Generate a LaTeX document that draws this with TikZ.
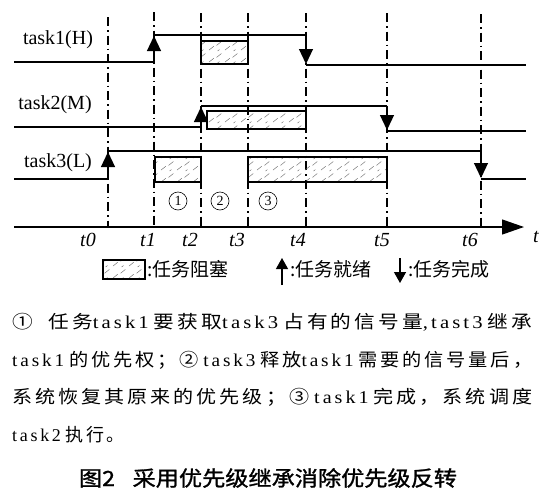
\documentclass[tikz,border=0pt]{standalone}
\usepackage{fontspec}
\usepackage{graphicx}
\setmainfont{Liberation Serif}
\newfontfamily\cjk[LetterSpace=15]{Noto Sans CJK SC}
\newfontfamily\cjkplain{Noto Sans CJK SC}
\newfontfamily\cjkcap[FakeBold=1.2]{Noto Sans CJK SC}
\newfontfamily\spaced[LetterSpace=15]{Liberation Serif}
\usetikzlibrary{arrows.meta,patterns.meta}
\tikzdeclarepattern{
  name=speckle,
  type=uncolored,
  bounding box={(0pt,0pt) and (16pt,12pt)},
  tile size={(16pt,12pt)},
  code={
    \draw[line width=0.45pt] (1pt,2pt) -- (6pt,6pt);
    \draw[line width=0.45pt] (9pt,7pt) -- (14pt,11pt);
    \draw[line width=0.45pt] (10pt,1pt) -- (12pt,2.5pt);
  }
}
\begin{document}
\begin{tikzpicture}[x=1pt,y=-1pt,
  sig/.style={line width=1.2pt},
  tipped/.style={line width=1.2pt,-{Triangle[length=15pt,width=14pt]}},
  guide/.style={line width=1.1pt,dash pattern=on 9pt off 4pt on 1.5pt off 4pt},
  blk/.style={draw,line width=1.1pt,pattern=speckle,pattern color=black!60},
  tasklbl/.style={inner sep=0pt,font=\fontsize{20}{22}\selectfont},
  tlbl/.style={inner sep=0pt,font=\fontsize{20}{22}\selectfont\itshape},
  circnum/.style={draw,circle,line width=0.6pt,minimum size=18pt,inner sep=0pt,font=\fontsize{14}{14}\selectfont},
  para/.style={anchor=west,inner sep=0pt},
  lgtext/.style={anchor=west,inner sep=0pt,font=\fontsize{19}{22}\selectfont\cjkplain},
  lgarrow/.style={line width=1.3pt,-{Triangle[length=11pt,width=12pt]}}
]
\useasboundingbox (0,0) rectangle (544,496);

% time guides
\foreach \xx/\yy in {108/17,154/12,201/13,248/13,306/13,387/13,481/14}
  \draw[guide] (\xx,\yy) -- (\xx,227);

% time axis
\coordinate (ax0) at (14,227);
\coordinate (ax1) at (524,227);
\draw[line width=1.2pt,-{Triangle[length=22pt,width=15pt]}] (ax0) -- (ax1);
\node[tlbl] (tt) at (536,237) {t};
\foreach \xx/\n in {88/0,148/1,190/2,237/3,298/4,382/5,470/6}
  \node[tlbl] (lt\n) at (\xx,240) {t\n};

% task labels
\node[tasklbl] (k1) at (58,40) {task1(H)};
\node[tasklbl] (k2) at (55,105) {task2(M)};
\node[tasklbl] (k3) at (58,163) {task3(L)};

% blocked intervals
\draw[blk] (201,41) rectangle (248,64);
\draw[blk] (207,111) rectangle (306,129);
\draw[blk] (155,157) rectangle (201,182);
\draw[blk] (248,157) rectangle (387,182);

% task1
\draw[tipped] (14,62) -- (154,62) -- (154,36);
\draw[sig] (154,35) -- (306,35);
\draw[tipped] (306,35) -- (306,64);
\draw[sig] (306,65) -- (526,65);
% task2
\draw[tipped] (14,127) -- (201,127) -- (201,107);
\draw[sig] (201,106) -- (387,106);
\draw[tipped] (387,106) -- (387,130);
\draw[sig] (387,131) -- (526,131);
% task3
\draw[tipped] (14,179) -- (108,179) -- (108,152);
\draw[sig] (108,151) -- (481,151);
\draw[tipped] (481,151) -- (481,178);
\draw[sig] (481,179) -- (526,179);

% phases
\node[circnum] (c1) at (178,201) {1};
\node[circnum] (c2) at (220,201) {2};
\node[circnum] (c3) at (268,201) {3};

% legend
\draw[blk] (103,260) rectangle (145,279);
\node[lgtext] (lg1) at (147,269) {:任务阻塞};
\draw[lgarrow] (282,285) -- (282,258);
\node[lgtext] (lg2) at (290,269) {:任务就绪};
\draw[lgarrow] (400,258) -- (400,283);
\node[lgtext] (lg3) at (408,269) {:任务完成};

% explanation
\node[para] (p1) at (12,322) {\resizebox{520pt}{\height}{\fontsize{18}{20}\selectfont{\cjk ①\ \ 任务}{\spaced task1} {\cjk 要获取}{\spaced task3} {\cjk 占有的信号量}{\spaced ,tast3} {\cjk 继承}}};
\node[para] (p2) at (12,360) {\resizebox{520pt}{\height}{\fontsize{18}{20}\selectfont{\spaced task1} {\cjk 的优先权；②} {\spaced task3} {\cjk 释放}{\spaced task1} {\cjk 需要的信号量后，}}};
\node[para] (p3) at (12,397) {\resizebox{520pt}{\height}{\fontsize{18}{20}\selectfont{\cjk 系统恢复其原来的优先级；③} {\spaced task1} {\cjk 完成，系统调度}}};
\node[para] (p4) at (12,435) {\fontsize{18}{20}\selectfont{\spaced task2} {\cjk 执行。}};

% caption
\node[inner sep=0pt] (cap) at (268,478) {\resizebox{378pt}{\height}{\fontsize{21}{24}\selectfont\cjkcap 图2\hspace{16pt}采用优先级继承消除优先级反转}};
\end{tikzpicture}
\end{document}
